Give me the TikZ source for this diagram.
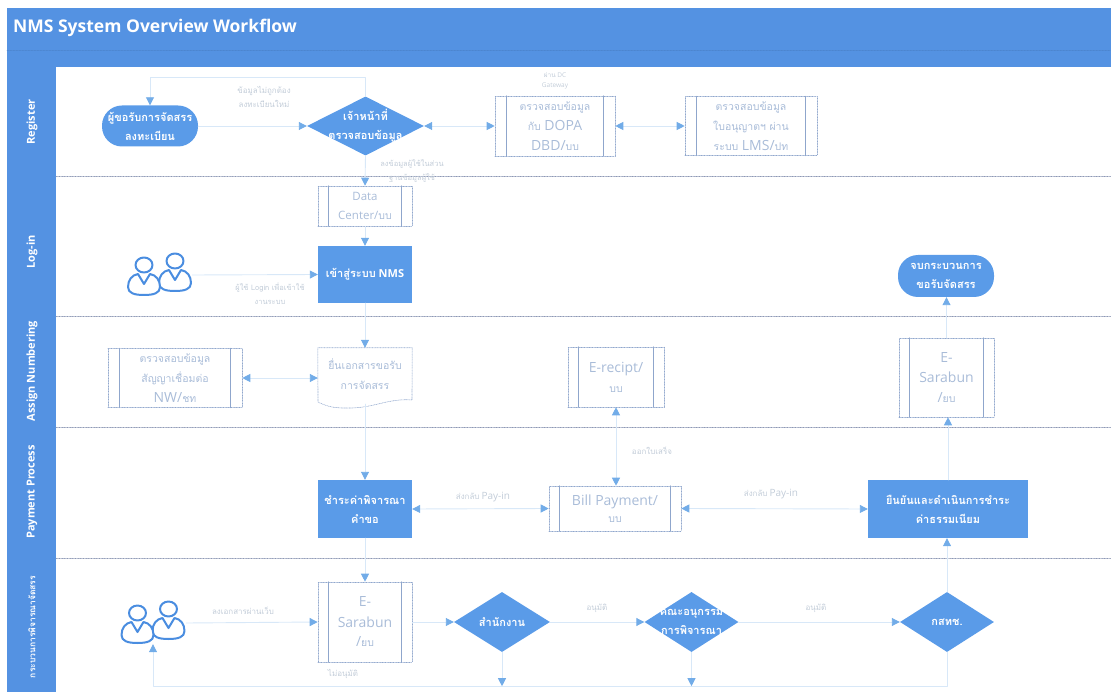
\documentclass[tikz,border=0pt]{standalone}
\usepackage{fontspec}
\usepackage{tikz}
\usepackage{xcolor}
\setmainfont{Open Sans}
\newfontfamily\thaifont[Script=Thai]{Loma}
\newcommand{\thai}[1]{{\thaifont #1}}
\newcommand{\thaibox}[1]{{\fontsize{10.5}{20}\selectfont\thaifont #1}}
\usetikzlibrary{arrows.meta,shapes.geometric}
\definecolor{headblue}{HTML}{5492E2}
\definecolor{nodeblue}{HTML}{5A9BE8}
\definecolor{lineblue}{HTML}{D8E8F8}
\definecolor{tipblue}{HTML}{72ACE8}
\definecolor{edgegrey}{HTML}{8FA6CC}
\definecolor{boxtext}{HTML}{A9BCD8}
\definecolor{smalltext}{HTML}{C2CCD8}
\definecolor{lanegrey}{HTML}{8C97B4}
\definecolor{iconblue}{HTML}{4A8DE0}
\tikzset{
  solidbox/.style={fill=nodeblue,text=white,font=\fontsize{11}{19}\selectfont\bfseries,align=center,inner sep=0pt},
  terminator/.style={solidbox,rounded corners=20pt},
  decision/.style={solidbox,diamond,inner sep=0pt},
  subbox/.style={draw=edgegrey,densely dotted,line width=0.6pt,text=boxtext,font=\fontsize{14}{20}\selectfont,align=center,inner sep=0pt},
  barline/.style={draw=edgegrey,line width=0.5pt},
  flowlabel/.style={text=smalltext,font=\fontsize{8}{14}\selectfont,align=center,inner sep=0pt},
  lanelabel/.style={text=white,rotate=90,font=\fontsize{11}{14}\selectfont\bfseries,inner sep=0pt},
  flowline/.style={draw=lineblue,line width=0.9pt,-{Triangle[color=tipblue,length=8pt,width=8pt]}},
  bothline/.style={draw=lineblue,line width=0.9pt,{Triangle[color=tipblue,length=8pt,width=8pt]}-{Triangle[color=tipblue,length=8pt,width=8pt]}},
  people/.pic={
    \foreach \hx/\hy in {15.5/-14,-15.5/-10}{
      \draw[iconblue,line width=2pt,fill=white] (\hx-6,\hy+9) .. controls (\hx-12,\hy+10) and (\hx-16,\hy+15) .. (\hx-16,\hy+22)
        .. controls (\hx-16,\hy+28) and (\hx-10,\hy+30) .. (\hx,\hy+30)
        .. controls (\hx+10,\hy+30) and (\hx+16,\hy+28) .. (\hx+16,\hy+22)
        .. controls (\hx+16,\hy+15) and (\hx+12,\hy+10) .. (\hx+6,\hy+9) -- (\hx,\hy+19) -- cycle;
      \draw[iconblue,line width=2pt,fill=white] (\hx,\hy) ellipse (8.5 and 7.5);
    }
  }
}
\begin{document}
\begin{tikzpicture}[line cap=round,line join=round,x=1pt,y=-1pt]
\useasboundingbox (0,0) rectangle (1111,692);
\fill[headblue] (7,8) rectangle (1111,67);
\fill[headblue] (7,67) rectangle (56,692);
\draw[black!10!headblue,line width=0.5pt,densely dotted] (7,50) -- (1111,50);
\node[text=white,anchor=west,font=\fontsize{17.5}{20}\selectfont\bfseries,inner sep=0pt] (title) at (13,28) {NMS System Overview Workflow};
\foreach \y in {176,316,427,558}{
  \draw[lanegrey,densely dotted,line width=0.6pt] (56,\y) -- (1111,\y);
}
\node[lanelabel] (laneregister) at (32,122) {Register};
\node[lanelabel] (lanelogin) at (32,252) {Log-in};
\node[lanelabel] (laneassign) at (32,371) {Assign Numbering};
\node[lanelabel] (lanepayment) at (32,492) {Payment Process};
\node[lanelabel,font=\fontsize{8.5}{12}\selectfont\bfseries] (lanereview) at (32,627) {\thai{กระบวนการพิจารณาจัดสรร}};

\node[terminator,minimum width=96pt,minimum height=41pt] (applicant) at (150,126) {\thai{ผู้ขอรับการจัดสรร}\\\thai{ลงทะเบียน}};
\node[decision,minimum width=117pt,minimum height=59pt,label={[text=white,font=\fontsize{11}{19}\selectfont\bfseries,align=center]center:\thai{เจ้าหน้าที่}\\\thai{ตรวจสอบข้อมูล}}] (checker) at (365.5,126) {};
\node[subbox,minimum width=120pt,minimum height=60pt] (dopa) at (555,126) {\thaibox{ตรวจสอบข้อมูล}\\\thaibox{กับ} DOPA\\DBD/\thaibox{บบ}};
\node[subbox,minimum width=132pt,minimum height=59pt] (lms) at (751,126) {\thaibox{ตรวจสอบข้อมูล}\\\thaibox{ใบอนุญาตฯ ผ่าน}\\\thaibox{ระบบ} LMS/\thaibox{ปท}};
\node[subbox,minimum width=94pt,minimum height=40pt,font=\fontsize{11.5}{19}\selectfont] (datacenter) at (365,206) {Data\\Center/\thaibox{บบ}};
\node[solidbox,minimum width=94pt,minimum height=57pt] (nmslogin) at (365,274.5) {\thai{เข้าสู่ระบบ} NMS};
\node[terminator,minimum width=96pt,minimum height=42pt] (finish) at (946,276) {\thai{จบกระบวนการ}\\\thai{ขอรับจัดสรร}};
\node[minimum width=65pt,minimum height=44pt,inner sep=0pt] (usera) at (159.5,275) {};
\pic at (usera) {people};
\node[subbox,minimum width=134pt,minimum height=59pt] (contract) at (175,378) {\thaibox{ตรวจสอบข้อมูล}\\\thaibox{สัญญาเชื่อมต่อ}\\NW/\thaibox{ชท}};
\node[text=boxtext,font=\fontsize{10.5}{20}\selectfont,align=center,minimum width=94pt,minimum height=52pt,inner sep=0pt] (submit) at (365,374) {\thai{ยื่นเอกสารขอรับ}\\\thai{การจัดสรร}};
\draw[edgegrey,densely dotted,line width=0.6pt] (submit.north west) -- (submit.north east) -- (412,400) .. controls +(-25,-2) and +(28,1) .. (345,408) .. controls +(-10,0) and +(10,5) .. (318,402) -- cycle;
\node[subbox,minimum width=96pt,minimum height=60pt] (receipt) at (616,377) {E-recipt/\\\thaibox{บบ}};
\node[subbox,minimum width=95pt,minimum height=79pt] (sarabunb) at (946.5,377.5) {E-\\Sarabun\\/\thaibox{ยบ}};
\node[solidbox,minimum width=94pt,minimum height=58pt] (reviewfee) at (365,509) {\thai{ชำระค่าพิจารณา}\\\thai{คำขอ}};
\node[subbox,minimum width=132pt,minimum height=45pt] (billpay) at (615,508.5) {Bill Payment/\\[-3pt]\thaibox{บบ}};
\node[solidbox,minimum width=160pt,minimum height=58pt] (confirm) at (948,509) {\thai{ยืนยันและดำเนินการชำระ}\\\thai{ค่าธรรมเนียม}};
\node[minimum width=66pt,minimum height=42pt,inner sep=0pt] (userb) at (153,623) {};
\pic at (userb) {people};
\node[subbox,minimum width=94pt,minimum height=80pt] (sarabuna) at (365,622) {E-\\Sarabun\\/\thaibox{ยบ}};
\node[decision,minimum width=96pt,minimum height=60pt,label={[text=white,font=\fontsize{11}{19}\selectfont\bfseries,align=center]center:\thai{สำนักงาน}}] (office) at (502,622) {};
\node[decision,minimum width=94pt,minimum height=60pt,label={[text=white,font=\fontsize{11}{19}\selectfont\bfseries,align=center]center:\thai{คณะอนุกรรม}\\\thai{การพิจารณา}}] (subcommittee) at (691.5,622) {};
\node[decision,minimum width=94pt,minimum height=60pt,label={[text=white,font=\fontsize{11}{19}\selectfont\bfseries,align=center]center:\thai{กสทช.}}] (nbtc) at (947,622) {};

\foreach \bar/\inset in {dopa/12,lms/12,datacenter/11,contract/12,receipt/11,sarabunb/11,billpay/11,sarabuna/11}{
  \draw[barline] ([xshift=\inset pt]\bar.north west) -- ([xshift=\inset pt]\bar.south west);
  \draw[barline] ([xshift=-\inset pt]\bar.north east) -- ([xshift=-\inset pt]\bar.south east);
}

\node[flowlabel] (lblretry) at (264,97) {\thai{ข้อมูลไม่ถูกต้อง}\\\thai{ลงทะเบียนใหม่}};
\node[flowlabel,font=\fontsize{6.5}{10}\selectfont] (lblgateway) at (555,81) {\thai{ผ่าน} DC\\Gateway};
\node[flowlabel,font=\fontsize{7.5}{14}\selectfont] (lblcreate) at (412,171) {\thai{ลงข้อมูลผู้ใช้ในส่วน}\\\thai{ฐานข้อมูลผู้ใช้}};
\node[flowlabel,font=\fontsize{7.5}{14}\selectfont] (lbllogin) at (270,294) {\thai{ผู้ใช้ Login เพื่อเข้าใช้}\\\thai{งานระบบ}};
\node[flowlabel] (lblreceipt) at (652,451) {\thai{ออกใบเสร็จ}};
\node[flowlabel,font=\fontsize{10}{14}\selectfont] (lblpayina) at (483,497) {\fontsize{8}{14}\selectfont\thai{ส่งกลับ} \fontsize{10}{14}\selectfont Pay-in};
\node[flowlabel,font=\fontsize{10}{14}\selectfont] (lblpayinb) at (771,494) {\fontsize{8}{14}\selectfont\thai{ส่งกลับ} \fontsize{10}{14}\selectfont Pay-in};
\node[flowlabel] (lblupload) at (243,611) {\thai{ลงเอกสารผ่านเว็บ}};
\node[flowlabel] (lblreject) at (343,674) {\thai{ไม่อนุมัติ}};
\node[flowlabel] (lblapprovea) at (597,608) {\thai{อนุมัติ}};
\node[flowlabel] (lblapproveb) at (816,608) {\thai{อนุมัติ}};

\draw[flowline] (applicant.east) -- (checker.west);
\draw[flowline] (checker.north) -- ++(0,-19) -| (applicant.north);
\draw[bothline] (checker.east) -- (dopa.west);
\draw[bothline] (dopa.east) -- (lms.west);
\draw[flowline] (checker.south) -- (datacenter.north);
\draw[flowline] (datacenter.south) -- (nmslogin.north);
\draw[flowline] (usera.east) -- (nmslogin.west);
\draw[flowline] (nmslogin.south) -- (submit.north);
\draw[bothline] (contract.east) -- (submit.west |- contract.east);
\draw[flowline] (submit.south) ++(0,4) -- (reviewfee.north);
\draw[flowline] (reviewfee.south) -- (sarabuna.north);
\draw[bothline] (reviewfee.east) -- (billpay.west);
\draw[bothline] (billpay.east) -- (confirm.west);
\draw[bothline] (receipt.south) -- (billpay.north -| receipt.south);
\draw[flowline] (confirm.north) -- (sarabunb.south -| confirm.north);
\draw[flowline] (sarabunb.north) -- (finish.south -| sarabunb.north);
\draw[flowline] (userb.east) -- (sarabuna.west);
\draw[flowline] (sarabuna.east) -- (office.west);
\draw[flowline] (office.east) -- (subcommittee.west);
\draw[flowline] (subcommittee.east) -- (nbtc.west);
\draw[flowline] (nbtc.north) -- (confirm.south -| nbtc.north);
\draw[flowline] (nbtc.south) -- ++(0,34) -| (userb.south);
\draw[flowline] (office.south) -- ++(0,34);
\draw[flowline] (subcommittee.south) -- ++(0,34);
\end{tikzpicture}
\end{document}
